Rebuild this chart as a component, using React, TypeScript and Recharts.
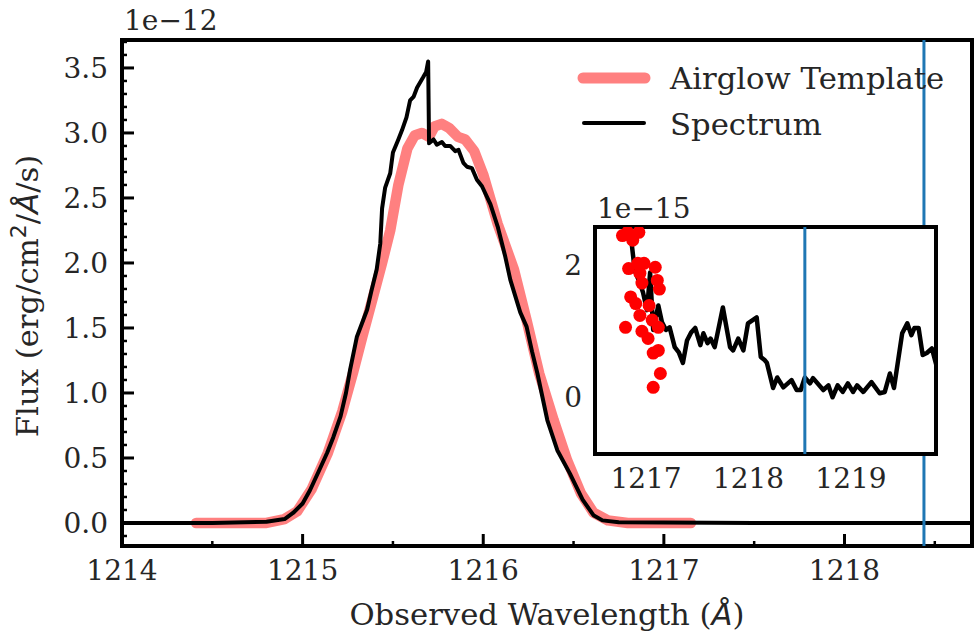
import {
  CartesianGrid,
  ComposedChart,
  Label,
  Legend,
  Line,
  LineChart,
  ReferenceArea,
  ReferenceLine,
  Scatter,
  XAxis,
  YAxis,
} from "recharts"

const FONT = "DejaVu Serif"
const TEXT = "#262626"
const PINK = "#ff8080"
const BLUE = "#1f77b4"

// spectrum, flux in units of 1e-12 erg/cm2/A/s
const specWave = [
  1214.0, 1214.5, 1214.8, 1214.9, 1214.947, 1215.0, 1215.04, 1215.09, 1215.136, 1215.17, 1215.21, 1215.24,
  1215.263, 1215.3, 1215.357, 1215.38, 1215.41, 1215.43, 1215.44, 1215.457, 1215.485, 1215.5, 1215.53, 1215.55,
  1215.575, 1215.595, 1215.615, 1215.634, 1215.668, 1215.684, 1215.695, 1215.7, 1215.725, 1215.743, 1215.771,
  1215.789, 1215.817, 1215.845, 1215.863, 1215.89, 1215.91, 1215.937, 1215.965, 1215.993, 1216.04, 1216.08,
  1216.12, 1216.15, 1216.205, 1216.24, 1216.27, 1216.3, 1216.355, 1216.41, 1216.48, 1216.55, 1216.61, 1216.66,
  1216.75, 1217.5, 1218.0, 1218.706,
]
const specFlux = [
  0.0, 0.0, 0.01, 0.03, 0.077, 0.15, 0.25, 0.4, 0.54, 0.66, 0.82, 1.0,
  1.18, 1.43, 1.64, 1.78, 1.95, 2.15, 2.42, 2.58, 2.69, 2.85, 2.95, 3.02,
  3.12, 3.25, 3.28, 3.35, 3.43, 3.47, 3.55, 2.92, 2.95, 2.91, 2.93,
  2.9, 2.9, 2.86, 2.87, 2.77, 2.74, 2.73, 2.64, 2.59, 2.45, 2.28,
  2.06, 1.87, 1.62, 1.51, 1.32, 1.15, 0.79, 0.56, 0.38, 0.18, 0.06, 0.02,
  0.005, 0.0, 0.0, 0.0,
]

// airglow template, same units
const airglowWave = [
  1214.41, 1214.8, 1214.9, 1214.97, 1215.05, 1215.14, 1215.22, 1215.28, 1215.33, 1215.39, 1215.44, 1215.485,
  1215.53, 1215.58, 1215.62, 1215.66, 1215.7, 1215.73, 1215.77, 1215.81, 1215.86, 1215.9, 1215.95, 1216.0,
  1216.08, 1216.17, 1216.24, 1216.31, 1216.39, 1216.465, 1216.54, 1216.61, 1216.69, 1216.8, 1217.15,
]
const airglowFlux = [
  0.0, 0.0, 0.03, 0.09, 0.26, 0.54, 0.86, 1.16, 1.43, 1.74, 2.0, 2.25,
  2.6, 2.88, 2.98, 3.0, 2.97, 3.05, 3.07, 3.04, 2.97, 2.95, 2.86, 2.68,
  2.3, 1.95, 1.56, 1.15, 0.79, 0.48, 0.23, 0.08, 0.02, 0.0, 0.0,
]

// inset: red wing of the spectrum, flux in units of 1e-15
const insetWave = [
  1216.8, 1216.81, 1216.825, 1216.845, 1216.86, 1216.89, 1216.94, 1216.97, 1217.01, 1217.04, 1217.07, 1217.12,
  1217.155, 1217.195, 1217.23, 1217.28, 1217.32, 1217.36, 1217.4, 1217.44, 1217.48, 1217.53, 1217.56, 1217.6,
  1217.63, 1217.67, 1217.75, 1217.82, 1217.85, 1217.9, 1217.95, 1217.995, 1218.08, 1218.12, 1218.16, 1218.18,
  1218.24, 1218.28, 1218.34, 1218.42, 1218.47, 1218.51, 1218.55, 1218.6, 1218.63, 1218.73, 1218.78, 1218.82,
  1218.87, 1218.92, 1218.97, 1219.02, 1219.06, 1219.12, 1219.2, 1219.28, 1219.33, 1219.38, 1219.42, 1219.5,
  1219.55, 1219.59, 1219.62, 1219.66, 1219.7, 1219.74, 1219.79, 1219.84,
]
const insetFlux = [
  2.75, 2.42, 2.65, 2.5, 2.33, 1.92, 1.73, 1.59, 1.32, 1.89, 1.02, 1.39,
  1.14, 1.02, 1.06, 0.76, 0.68, 0.52, 0.86, 0.98, 1.05, 0.79, 0.97, 0.82,
  0.89, 0.76, 1.36, 0.76, 0.71, 0.89, 0.71, 1.12, 1.21, 0.61, 0.56, 0.52,
  0.14, 0.3, 0.15, 0.26, 0.11, 0.11, 0.3, 0.21, 0.29, 0.11, 0.18, 0.0,
  0.18, 0.08, 0.21, 0.08, 0.18, 0.08, 0.23, 0.06, 0.08, 0.36, 0.14, 0.97,
  1.12, 0.94, 1.05, 1.05, 0.64, 0.67, 0.74, 0.45,
]

// red points in the inset, 1e-15
const dotWave = [
  1216.77, 1216.82, 1216.93, 1216.87, 1216.83, 1216.92, 1216.98, 1217.09, 1216.94, 1217.11, 1217.13, 1216.96,
  1216.85, 1216.9, 1216.94, 1217.03, 1217.06, 1216.8, 1216.96, 1217.12, 1217.02, 1217.07, 1217.12, 1217.14,
  1217.07,
]
const dotFlux = [
  2.45, 2.5, 2.5, 2.38, 1.95, 2.03, 2.03, 1.97, 1.88, 1.77, 1.64, 1.73,
  1.52, 1.42, 1.24, 1.39, 1.17, 1.06, 1.0, 1.06, 0.89, 0.67, 0.71, 0.36,
  0.15,
]

const xDomain = [1214, 1218.706]
const yDomain = [-0.177, 3.715]
const xMajorTicks = [1214, 1215, 1216, 1217, 1218]
const xMinorTicks = [1214.5, 1215.5, 1216.5, 1217.5, 1218.5]
const yMajorTicks = [0, 0.5, 1, 1.5, 2, 2.5, 3, 3.5]
const blueLineMain = 1218.44

const insetXDomain = [1216.502, 1219.83]
const insetYDomain = [-0.86, 2.58]
const insetXTicks = [1217, 1218, 1219]
const insetYTicks = [0, 2]
const blueLineInset = 1218.55

const toPoints = (xs: number[], ys: number[]) => xs.map((x, i) => ({ x, y: ys[i] }))

const spectrum = toPoints(specWave, specFlux)
const airglow = toPoints(airglowWave, airglowFlux)
const insetSpectrum = toPoints(insetWave, insetFlux)
const insetDots = toPoints(dotWave, dotFlux)

// minor y ticks every 0.1
const yMinorTicks: number[] = []
for (let i = -1; i <= 37; i++) {
  const v = i / 10
  if (!yMajorTicks.includes(v)) yMinorTicks.push(v)
}

const textStyle = { fontFamily: FONT, fontSize: 28, fill: TEXT }
const bigText = { fontFamily: FONT, fontSize: 30.7, fill: TEXT }

function MainXTick(props: any) {
  const { x, y, payload } = props
  const major = xMajorTicks.includes(payload.value)
  return (
    <g>
      <line x1={x} x2={x} y1={y} y2={y - (major ? 12 : 5)} stroke="#000" strokeWidth={major ? 3 : 2.5} />
      {major && (
        <text x={x} y={y + 34} textAnchor="middle" {...textStyle}>
          {payload.value}
        </text>
      )}
    </g>
  )
}

function MainYTick(props: any) {
  const { x, y, payload } = props
  const major = yMajorTicks.includes(payload.value)
  return (
    <g>
      <line x1={x} x2={x + (major ? 12 : 5)} y1={y} y2={y} stroke="#000" strokeWidth={major ? 3 : 2.5} />
      {major && (
        <text x={x - 14} y={y} dy="0.36em" textAnchor="end" {...textStyle}>
          {payload.value.toFixed(1)}
        </text>
      )}
    </g>
  )
}

function InsetXTick(props: any) {
  const { x, y, payload } = props
  return (
    <text x={x} y={y + 34} textAnchor="middle" {...textStyle}>
      {payload.value}
    </text>
  )
}

function InsetYTick(props: any) {
  const { x, y, payload } = props
  return (
    <text x={x - 13} y={y} dy="0.36em" textAnchor="end" {...textStyle}>
      {payload.value}
    </text>
  )
}

const XTitle = ({ viewBox }: any) => (
  <text x={viewBox.x + viewBox.width / 2} y={viewBox.y + 79} textAnchor="middle" {...bigText}>
    Observed Wavelength (
    <tspan fontFamily="DejaVu Sans" fontStyle="italic">
      Å
    </tspan>
    )
  </text>
)

const YTitle = ({ viewBox }: any) => {
  const cx = viewBox.x + 16
  const cy = viewBox.y + viewBox.height / 2 + 3
  return (
    <text x={cx} y={cy} textAnchor="middle" transform={`rotate(-90, ${cx}, ${cy})`} {...bigText}>
      Flux (erg/cm
      <tspan fontFamily="DejaVu Sans" fontSize={22} dy={-12}>
        2
      </tspan>
      <tspan dy={12}>/</tspan>
      <tspan fontFamily="DejaVu Sans" fontStyle="italic">
        Å
      </tspan>
      /s)
    </text>
  )
}

const offsetText = (label: string, dy: number) => ({ viewBox }: any) => (
  <text x={viewBox.x + viewBox.width + 2} y={viewBox.y + dy} {...textStyle}>
    {label}
  </text>
)

const LegendBox = () => (
  <svg width={410} height={110}>
    <line x1={23} x2={85} y1={38} y2={38} stroke={PINK} strokeWidth={11} strokeLinecap="round" />
    <text x={110} y={49} {...bigText}>
      Airglow Template
    </text>
    <line x1={24} x2={84} y1={83} y2={83} stroke="#000" strokeWidth={4} strokeLinecap="round" />
    <text x={110} y={95} {...bigText}>
      Spectrum
    </text>
  </svg>
)

export default function App() {
  return (
    <div style={{ position: "absolute", left: 0, top: 0, width: 975, height: 639, background: "#fff" }}>
      <LineChart width={975} height={639} margin={{ top: 40, right: 3, bottom: 43, left: 22 }}>
        <XAxis
          type="number"
          dataKey="x"
          domain={xDomain}
          allowDataOverflow
          ticks={[...xMajorTicks, ...xMinorTicks].sort((a, b) => a - b)}
          interval={0}
          tickSize={0}
          tickMargin={0}
          tickLine={false}
          axisLine={false}
          tick={(p: any) => <MainXTick {...p} />}
          height={50}
        >
          <Label content={XTitle} />
        </XAxis>
        <YAxis
          type="number"
          dataKey="y"
          domain={yDomain}
          allowDataOverflow
          ticks={[...yMajorTicks, ...yMinorTicks].sort((a, b) => a - b)}
          interval={0}
          tickSize={0}
          tickMargin={0}
          tickLine={false}
          axisLine={false}
          tick={(p: any) => <MainYTick {...p} />}
          width={100}
        >
          <Label content={YTitle} />
          <Label content={offsetText("1e\u221212", -10)} />
        </YAxis>
        <Line
          data={airglow}
          dataKey="y"
          name="Airglow Template"
          stroke={PINK}
          strokeWidth={10.5}
          strokeLinecap="round"
          strokeLinejoin="round"
          dot={false}
          isAnimationActive={false}
        />
        <Line
          data={spectrum}
          dataKey="y"
          name="Spectrum"
          stroke="#000"
          strokeWidth={4}
          strokeLinejoin="round"
          dot={false}
          isAnimationActive={false}
        />
        <ReferenceLine x={blueLineMain} stroke={BLUE} strokeWidth={3} />
        <ReferenceArea
          x1={xDomain[0]}
          x2={xDomain[1]}
          y1={yDomain[0]}
          y2={yDomain[1]}
          fill="none"
          stroke="#000"
          strokeWidth={4}
          ifOverflow="visible"
        />
        <Legend
          layout="horizontal"
          verticalAlign="middle"
          align="center"
          wrapperStyle={{ left: 560, top: 40, width: 410 }}
          content={() => <LegendBox />}
        />
      </LineChart>

      <div style={{ position: "absolute", left: 545, top: 183 }}>
        <ComposedChart width={400} height={312} margin={{ top: 44, right: 9, bottom: 0, left: 10 }}>
          <CartesianGrid fill="#fff" horizontal={false} vertical={false} />
          <XAxis
            type="number"
            dataKey="x"
            domain={insetXDomain}
            allowDataOverflow
            ticks={insetXTicks}
            interval={0}
            tickSize={0}
            tickMargin={0}
            tickLine={false}
            axisLine={false}
            tick={(p: any) => <InsetXTick {...p} />}
            height={41}
          />
          <YAxis
            type="number"
            dataKey="y"
            domain={insetYDomain}
            allowDataOverflow
            ticks={insetYTicks}
            interval={0}
            tickSize={0}
            tickMargin={0}
            tickLine={false}
            axisLine={false}
            tick={(p: any) => <InsetYTick {...p} />}
            width={40}
          >
            <Label content={offsetText("1e\u221215", -9)} />
          </YAxis>
          <Scatter
            data={insetDots}
            dataKey="y"
            fill="#ff0000"
            isAnimationActive={false}
            shape={(p: any) => <circle cx={p.cx} cy={p.cy} r={6.5} fill="#ff0000" />}
          />
          <Line
            data={insetSpectrum}
            dataKey="y"
            stroke="#000"
            strokeWidth={4.5}
            strokeLinejoin="round"
            dot={false}
            isAnimationActive={false}
          />
          <ReferenceLine x={blueLineInset} stroke={BLUE} strokeWidth={3} />
          <ReferenceArea
            x1={insetXDomain[0]}
            x2={insetXDomain[1]}
            y1={insetYDomain[0]}
            y2={insetYDomain[1]}
            fill="none"
            stroke="#000"
            strokeWidth={4}
            ifOverflow="visible"
          />
        </ComposedChart>
      </div>
    </div>
  )
}
